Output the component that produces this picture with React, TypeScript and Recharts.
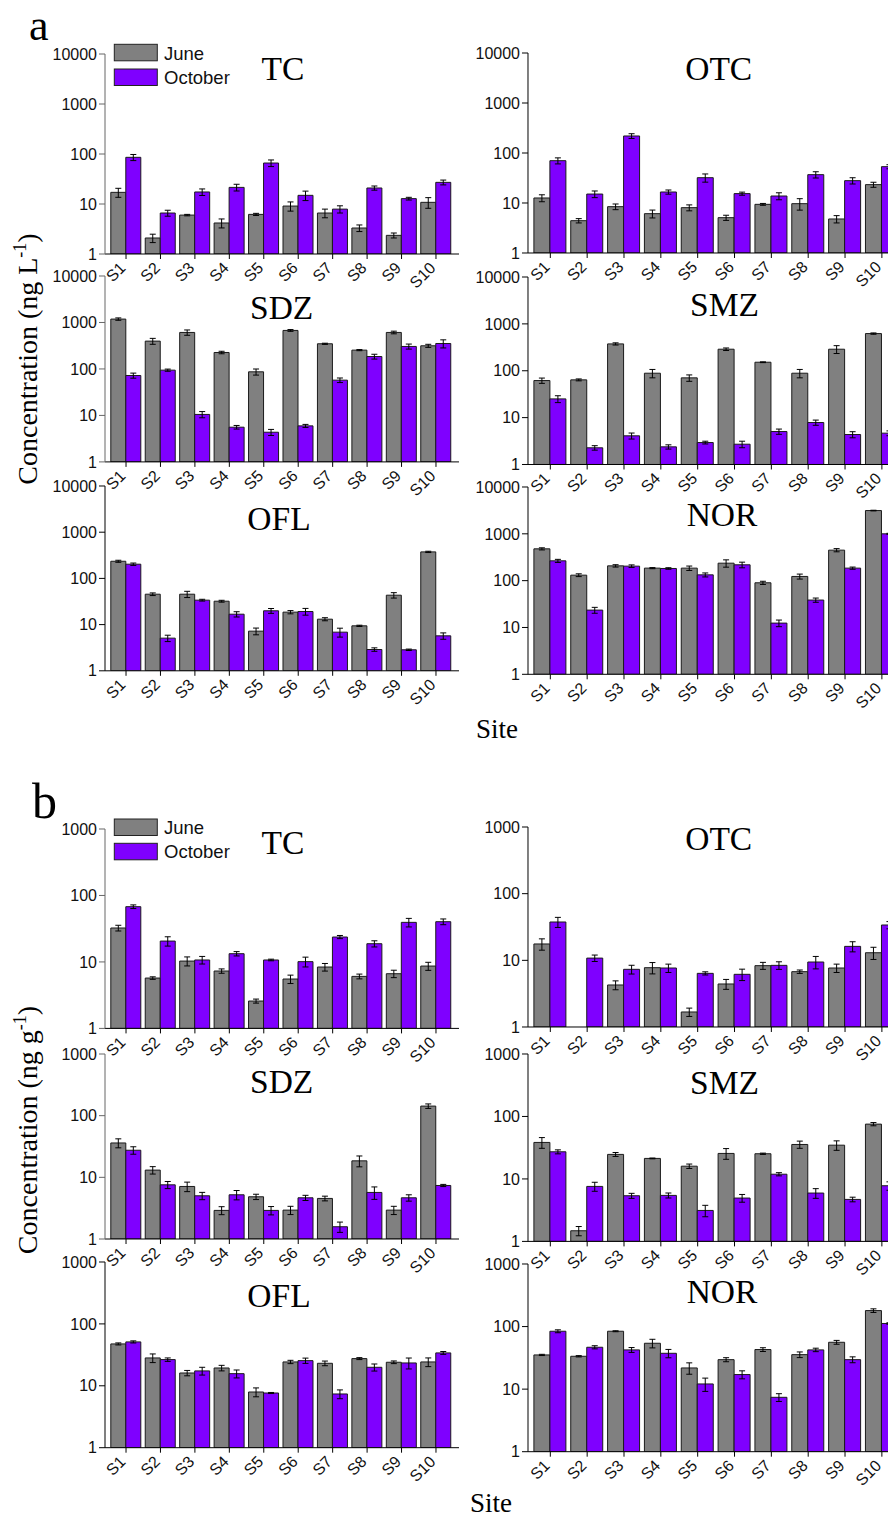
import React from 'react';
import { BarChart, Bar, XAxis, YAxis, ErrorBar } from 'recharts';

const SANS = '"Liberation Sans", Arial, Helvetica, sans-serif';
const SERIF = '"Liberation Serif", "Times New Roman", serif';
const JUNE_COLOR = '#808080';
const OCT_COLOR = '#7F00FF';

const sites = ['S1', 'S2', 'S3', 'S4', 'S5', 'S6', 'S7', 'S8', 'S9', 'S10'];
const ticksA = [1, 10, 100, 1000, 10000];
const ticksB = [1, 10, 100, 1000];

// ---- (a) water, ng L-1 ----
const aTC_june = [17.1, 2.09, 6.0, 4.17, 6.2, 9.1, 6.6, 3.31, 2.36, 10.8];
const aTC_juneErr = [3.5, 0.4, 0.2, 0.85, 0.3, 1.9, 1.3, 0.5, 0.27, 2.6];
const aTC_oct = [85.8, 6.6, 17.4, 21.5, 66, 14.9, 7.9, 20.9, 12.8, 27.1];
const aTC_octErr = [12, 0.9, 2.6, 3.3, 10, 3.2, 1.3, 2, 0.8, 3];

const aOTC_june = [12.6, 4.43, 8.45, 6.12, 8.07, 5.09, 9.4, 9.7, 4.79, 23.3];
const aOTC_juneErr = [2, 0.44, 1.1, 1.1, 1.1, 0.6, 0.4, 2.5, 0.8, 2.7];
const aOTC_oct = [70.2, 15.1, 219, 16.6, 32.1, 15.4, 13.8, 36.9, 28, 53.3];
const aOTC_octErr = [9.7, 2.3, 24, 1.6, 6, 1.1, 2.2, 5.3, 4, 5];

const aSDZ_june = [1183, 397, 610, 226, 86.7, 674, 348, 254, 610, 315];
const aSDZ_juneErr = [70, 58, 80, 14, 13, 30, 10, 7, 40, 24];
const aSDZ_oct = [72.3, 94.2, 10.5, 5.58, 4.35, 5.96, 57.4, 185, 305, 353];
const aSDZ_octErr = [9, 5, 1.6, 0.5, 0.65, 0.45, 6.5, 22, 38, 70];

const aSMZ_june = [61.8, 63.9, 374, 88.6, 70.5, 288, 152, 88.6, 288, 621];
const aSMZ_juneErr = [8, 3, 20, 18, 11, 18, 3, 18, 55, 20];
const aSMZ_oct = [25.1, 2.27, 4.09, 2.38, 2.94, 2.71, 5.05, 7.86, 4.36, 4.66];
const aSMZ_octErr = [4.2, 0.25, 0.6, 0.25, 0.2, 0.43, 0.65, 1, 0.65, 0.55];

const aOFL_june = [235, 45.5, 45.5, 32.1, 7.21, 18.6, 13.1, 9.4, 43.3, 375];
const aOFL_juneErr = [12, 3, 7, 1.5, 1.2, 1.5, 1, 0.3, 5.8, 12];
const aOFL_oct = [203, 5.09, 33.8, 16.8, 19.9, 19.2, 6.86, 2.89, 2.85, 5.71];
const aOFL_octErr = [12, 0.8, 1.5, 2.2, 2.4, 3.2, 1.5, 0.25, 0.1, 0.9];

const aNOR_june = [478, 131, 207, 185, 185, 236, 90, 123, 448, 3140];
const aNOR_juneErr = [25, 9, 12, 5, 20, 42, 7, 15, 35, 50];
const aNOR_oct = [265, 23.5, 204, 182, 133, 218, 12.4, 38.5, 185, 1000];
const aNOR_octErr = [20, 3.4, 13, 7, 13, 30, 2, 4, 10, 25];

// ---- (b) sediment, ng g-1 ----
const bTC_june = [32.4, 5.72, 10.3, 7.3, 2.58, 5.53, 8.38, 6.06, 6.65, 8.67];
const bTC_juneErr = [3.2, 0.25, 1.6, 0.55, 0.18, 0.8, 1.1, 0.5, 0.85, 1.2];
const bTC_oct = [67.8, 20.6, 10.7, 13.3, 10.7, 10.1, 23.7, 18.8, 39.4, 40.3];
const bTC_octErr = [4.3, 3.3, 1.4, 1, 0.3, 1.7, 1.3, 2, 5.8, 4];

const bOTC_june = [17.6, null, 4.27, 7.76, 1.68, 4.42, 8.32, 6.76, 7.67, 13];
const bOTC_juneErr = [3.4, null, 0.65, 1.5, 0.24, 0.75, 1, 0.4, 1.1, 2.7];
const bOTC_oct = [37.6, 10.8, 7.33, 7.67, 6.38, 6.17, 8.41, 9.44, 16.2, 33.9];
const bOTC_octErr = [6.5, 1.2, 1.1, 1.1, 0.35, 1.2, 1.1, 2, 2.8, 4.2];

const bSDZ_june = [36.1, 13.1, 7.11, 2.91, 4.84, 2.94, 4.55, 18.5, 2.94, 143];
const bSDZ_juneErr = [6, 1.8, 1.25, 0.43, 0.48, 0.45, 0.4, 3.7, 0.45, 12];
const bSDZ_oct = [27.5, 7.56, 5.02, 5.21, 2.91, 4.66, 1.58, 5.69, 4.66, 7.38];
const bSDZ_octErr = [3.8, 1, 0.68, 0.9, 0.45, 0.45, 0.3, 1.3, 0.55, 0.3];

const bSMZ_june = [38.4, 1.48, 24.7, 21.3, 16.0, 25.6, 25.3, 35.6, 34.7, 75.4];
const bSMZ_juneErr = [7.5, 0.25, 1.8, 0.3, 1.3, 5, 0.6, 4.7, 6, 4.5];
const bSMZ_oct = [27.2, 7.59, 5.38, 5.45, 3.13, 4.94, 11.9, 5.94, 4.7, 7.78];
const bSMZ_octErr = [2, 1.25, 0.5, 0.5, 0.65, 0.7, 0.7, 1.05, 0.4, 1.2];

const bOFL_june = [47.5, 28.2, 16.1, 19.4, 7.94, 24.3, 23.1, 27.5, 24, 24.3];
const bOFL_juneErr = [1.8, 4.5, 1.6, 2, 1.3, 1.5, 2, 1, 1.2, 3.9];
const bOFL_oct = [51.2, 26.5, 17.4, 15.7, 7.65, 25.5, 7.38, 19.9, 23.4, 34];
const bOFL_octErr = [2, 1.7, 2.5, 2.3, 0.15, 2.5, 1.2, 2.6, 4.7, 1.8];

const bNOR_june = [35.2, 33.5, 84.2, 54.1, 21.8, 29.6, 42.9, 35.6, 56.1, 180];
const bNOR_juneErr = [0.8, 0.8, 1.5, 8.5, 4.5, 2.2, 3, 3.7, 4, 12];
const bNOR_oct = [84.2, 46.7, 42.4, 37.4, 12.1, 17.1, 7.4, 42.4, 29.6, 112];
const bNOR_octErr = [4.5, 2.7, 3.8, 5.7, 2.9, 2.5, 1.05, 2.7, 3.2, 3];

type Panel = {
  title: string;
  june: (number | null)[];
  juneErr: (number | null)[];
  oct: number[];
  octErr: number[];
  side: 'L' | 'R';
  yt: number;
  yb: number;
  ticks: number[];
  axisColor: string;
  tx: number;
  ty: number;
};

const COL = {
  L: { ax: 105, xr: 459, padL: 3.8, padR: 5.8, barSize: 15 },
  R: { ax: 527.7, xr: 906, padL: 3.9, padR: 6, barSize: 16 },
};

const panels: Panel[] = [
  { title: 'TC', june: aTC_june, juneErr: aTC_juneErr, oct: aTC_oct, octErr: aTC_octErr, side: 'L', yt: 54.3, yb: 254.3, ticks: ticksA, axisColor: '#666', tx: 283, ty: 80 },
  { title: 'OTC', june: aOTC_june, juneErr: aOTC_juneErr, oct: aOTC_oct, octErr: aOTC_octErr, side: 'R', yt: 52.7, yb: 252.7, ticks: ticksA, axisColor: '#000', tx: 718.7, ty: 80 },
  { title: 'SDZ', june: aSDZ_june, juneErr: aSDZ_juneErr, oct: aSDZ_oct, octErr: aSDZ_octErr, side: 'L', yt: 275.8, yb: 461.7, ticks: ticksA, axisColor: '#666', tx: 281.7, ty: 318.5 },
  { title: 'SMZ', june: aSMZ_june, juneErr: aSMZ_juneErr, oct: aSMZ_oct, octErr: aSMZ_octErr, side: 'R', yt: 276.5, yb: 464, ticks: ticksA, axisColor: '#000', tx: 724.5, ty: 315.5 },
  { title: 'OFL', june: aOFL_june, juneErr: aOFL_juneErr, oct: aOFL_oct, octErr: aOFL_octErr, side: 'L', yt: 485.5, yb: 670.3, ticks: ticksA, axisColor: '#000', tx: 279, ty: 529.5 },
  { title: 'NOR', june: aNOR_june, juneErr: aNOR_juneErr, oct: aNOR_oct, octErr: aNOR_octErr, side: 'R', yt: 486.7, yb: 674, ticks: ticksA, axisColor: '#000', tx: 722, ty: 525.5 },
  { title: 'TC', june: bTC_june, juneErr: bTC_juneErr, oct: bTC_oct, octErr: bTC_octErr, side: 'L', yt: 829.3, yb: 1028.7, ticks: ticksB, axisColor: '#666', tx: 283, ty: 854 },
  { title: 'OTC', june: bOTC_june, juneErr: bOTC_juneErr, oct: bOTC_oct, octErr: bOTC_octErr, side: 'R', yt: 827.3, yb: 1027.3, ticks: ticksB, axisColor: '#000', tx: 718.7, ty: 850 },
  { title: 'SDZ', june: bSDZ_june, juneErr: bSDZ_juneErr, oct: bSDZ_oct, octErr: bSDZ_octErr, side: 'L', yt: 1054.3, yb: 1239.3, ticks: ticksB, axisColor: '#666', tx: 281.7, ty: 1093 },
  { title: 'SMZ', june: bSMZ_june, juneErr: bSMZ_juneErr, oct: bSMZ_oct, octErr: bSMZ_octErr, side: 'R', yt: 1054.3, yb: 1241.7, ticks: ticksB, axisColor: '#000', tx: 724.5, ty: 1093.5 },
  { title: 'OFL', june: bOFL_june, juneErr: bOFL_juneErr, oct: bOFL_oct, octErr: bOFL_octErr, side: 'L', yt: 1262.3, yb: 1448, ticks: ticksB, axisColor: '#000', tx: 279, ty: 1307 },
  { title: 'NOR', june: bNOR_june, juneErr: bNOR_juneErr, oct: bNOR_oct, octErr: bNOR_octErr, side: 'R', yt: 1264, yb: 1451.7, ticks: ticksB, axisColor: '#000', tx: 722, ty: 1303 },
];

const renderXTick = (props: any) => {
  const { x, y, payload } = props;
  return (
    <text
      x={0}
      y={0}
      textAnchor="end"
      fontSize={16}
      fontFamily={SANS}
      fill="#111"
      transform={`translate(${x + 0.5},${y + 8}) rotate(-45)`}
    >
      {payload.value}
    </text>
  );
};

function PanelChart({ p }: { p: Panel }) {
  const c = COL[p.side];
  const yw = 60;
  const mt = 12;
  const xh = 50;
  const left = c.ax - yw;
  const top = p.yt - mt;
  const width = c.xr - left;
  const height = p.yb - p.yt + mt + xh;
  const data = sites.map((s, i) => ({
    site: s,
    june: p.june[i],
    juneErr: p.juneErr[i],
    oct: p.oct[i],
    octErr: p.octErr[i],
  }));
  const ymax = p.ticks[p.ticks.length - 1];
  return (
    <div style={{ position: 'absolute', left, top, width, height }}>
      <BarChart
        width={width}
        height={height}
        data={data}
        margin={{ top: mt, right: 0, bottom: 0, left: 0 }}
        barGap={0}
        barSize={c.barSize}
      >
        <XAxis
          dataKey="site"
          interval={0}
          height={xh}
          tickSize={5}
          tickMargin={2}
          padding={{ left: c.padL, right: c.padR }}
          axisLine={{ stroke: '#000', strokeWidth: 1 }}
          tickLine={{ stroke: '#000' }}
          tick={renderXTick}
        />
        <YAxis
          type="number"
          scale="log"
          domain={[1, ymax]}
          ticks={p.ticks}
          allowDataOverflow
          interval={0}
          width={yw}
          tickSize={6}
          tickMargin={2}
          axisLine={{ stroke: p.axisColor, strokeWidth: 1 }}
          tickLine={{ stroke: p.axisColor }}
          tick={{ fontSize: 16, fill: '#111', fontFamily: SANS }}
        />
        <Bar dataKey="june" fill={JUNE_COLOR} stroke="#1a1a1a" strokeWidth={1} isAnimationActive={false}>
          <ErrorBar dataKey="juneErr" width={3} stroke="#000" strokeWidth={1} />
        </Bar>
        <Bar dataKey="oct" fill={OCT_COLOR} stroke="#1a1a1a" strokeWidth={1} isAnimationActive={false}>
          <ErrorBar dataKey="octErr" width={3} stroke="#000" strokeWidth={1} />
        </Bar>
      </BarChart>
    </div>
  );
}

function Legend({ y1, y2, t1, t2 }: { y1: number; y2: number; t1: number; t2: number }) {
  return (
    <g>
      <rect x={114.3} y={y1} width={43} height={16.5} fill={JUNE_COLOR} stroke="#222" strokeWidth={1} />
      <text x={164} y={t1} fontFamily={SANS} fontSize={18.5} fill="#111">June</text>
      <rect x={114.3} y={y2} width={43} height={16.5} fill={OCT_COLOR} stroke="#222" strokeWidth={1} />
      <text x={164} y={t2} fontFamily={SANS} fontSize={18.5} fill="#111">October</text>
    </g>
  );
}

export default function App() {
  return (
    <div
      style={{
        position: 'relative',
        width: 896,
        height: 1520,
        margin: -8,
        overflow: 'hidden',
        background: '#fff',
      }}
    >
      {panels.map((p, i) => (
        <PanelChart key={i} p={p} />
      ))}
      <svg
        width={896}
        height={1520}
        style={{ position: 'absolute', left: 0, top: 0, pointerEvents: 'none' }}
      >
        <text x={29} y={39.5} fontFamily={SERIF} fontSize={44} fill="#000">a</text>
        <text x={32} y={818} fontFamily={SERIF} fontSize={50} fill="#000">b</text>
        {panels.map((p, i) => (
          <text key={i} x={p.tx} y={p.ty} textAnchor="middle" fontFamily={SERIF} fontSize={33.5} fill="#000">
            {p.title}
          </text>
        ))}
        <Legend y1={44.3} y2={69} t1={59.5} t2={84} />
        <Legend y1={819} y2={843.3} t1={834} t2={857.5} />
        <text transform="translate(37,359) rotate(-90)" textAnchor="middle" fontFamily={SERIF} fontSize={28} fill="#000">
          Concentration (ng L<tspan dy={-11} fontSize={18}>-1</tspan>
          <tspan dy={11}>)</tspan>
        </text>
        <text transform="translate(37,1130) rotate(-90)" textAnchor="middle" fontFamily={SERIF} fontSize={28} fill="#000">
          Concentration (ng g<tspan dy={-11} fontSize={18}>-1</tspan>
          <tspan dy={11}>)</tspan>
        </text>
        <text x={497} y={738} textAnchor="middle" fontFamily={SERIF} fontSize={27} fill="#000">Site</text>
        <text x={491} y={1512} textAnchor="middle" fontFamily={SERIF} fontSize={27} fill="#000">Site</text>
      </svg>
    </div>
  );
}
